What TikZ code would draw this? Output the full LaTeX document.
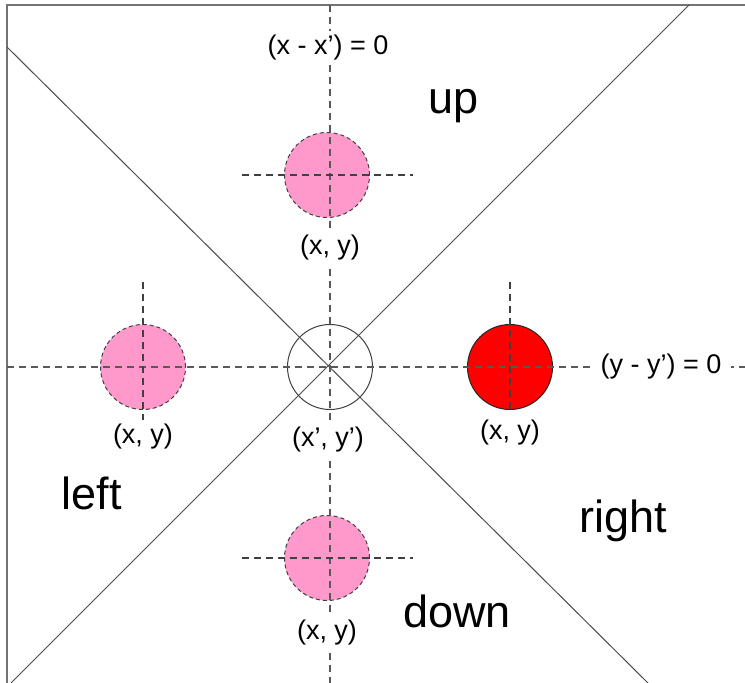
\documentclass[tikz,border=0pt]{standalone}
\usepackage{fontspec}
\setmainfont{Liberation Sans}
\definecolor{pinkc}{HTML}{FF99CC}
\definecolor{redc}{HTML}{FF0000}
\begin{document}
\begin{tikzpicture}[x=1pt,y=-1pt,
  frame/.style={draw=black!55,line width=1.8pt},
  diag/.style={draw=black!70,line width=1pt},
  axis/.style={draw=black!65,line width=1.3pt,dash pattern=on 7pt off 5pt},
  crossline/.style={draw=black!75,line width=1.3pt,dash pattern=on 7pt off 5pt},
  dot/.style={circle,minimum size=85pt,inner sep=0pt,line width=1pt},
  pinkdot/.style={dot,fill=pinkc,draw=black!75,dash pattern=on 4pt off 3pt},
  reddot/.style={dot,fill=redc,draw=black!85},
  origin/.style={dot,draw=black!75},
  small/.style={font=\fontsize{27}{32}\selectfont,inner sep=1pt},
  onaxis/.style={small,fill=white,inner xsep=2pt,inner ysep=4pt},
  big/.style={font=\fontsize{45}{54}\selectfont,inner sep=1pt},
  axislabel/.style={small,fill=white,inner xsep=10pt,inner ysep=4pt}
]
\useasboundingbox (0,0) rectangle (745,683);
\fill[white] (0,0) rectangle (745,683);

% frame
\coordinate (ftr) at (745,5);
\coordinate (ftl) at (7,5);
\coordinate (fbl) at (7,683);
\draw[frame] (ftr) -- (ftl) -- (fbl);

% diagonals
\coordinate (a1) at (689,5);
\coordinate (a2) at (11,683);
\coordinate (b1) at (7,47);
\coordinate (b2) at (648,683);
\draw[diag] (a1) -- (a2);
\draw[diag] (b1) -- (b2);

% circles
\node[origin] (c0) at (330,367) {};
\node[pinkdot] (cu) at (327,175) {};
\node[pinkdot] (cl) at (143,367) {};
\node[reddot] (cr) at (510,367) {};
\node[pinkdot] (cd) at (327,558) {};

% main axes
\coordinate (vt) at (330,5);
\coordinate (vb) at (330,683);
\coordinate (hl) at (7,367);
\coordinate (hr) at (745,367);
\draw[axis] (vt) -- (vb);
\draw[axis] (hl) -- (hr);

% small crosses
\coordinate (uL) at (242,175);
\coordinate (uR) at (413,175);
\coordinate (dL) at (242,558);
\coordinate (dR) at (413,558);
\coordinate (lT) at (143,282);
\coordinate (lB) at (143,420);
\coordinate (rT) at (510,282);
\coordinate (rB) at (510,411);
\draw[crossline] (uL) -- (uR);
\draw[crossline] (dL) -- (dR);
\draw[crossline] (lT) -- (lB);
\draw[crossline] (rT) -- (rB);

% axis labels
\node[axislabel] (lx) at (328,48) {(x - x’) = 0};
\node[axislabel] (ly) at (661,367) {(y - y’) = 0};

% point labels
\node[onaxis] (pu) at (330,248) {(x, y)};
\node[small] (pl) at (143,437) {(x, y)};
\node[onaxis] (p0) at (328,440) {(x’, y’)};
\node[small] (pr) at (510,433) {(x, y)};
\node[onaxis] (pd) at (327,633) {(x, y)};

% region labels
\node[big] (up) at (454,106) {up};
\node[big] (left) at (92,493) {left};
\node[big] (right) at (623,521) {right};
\node[big] (down) at (457,611) {down};
\end{tikzpicture}
\end{document}
